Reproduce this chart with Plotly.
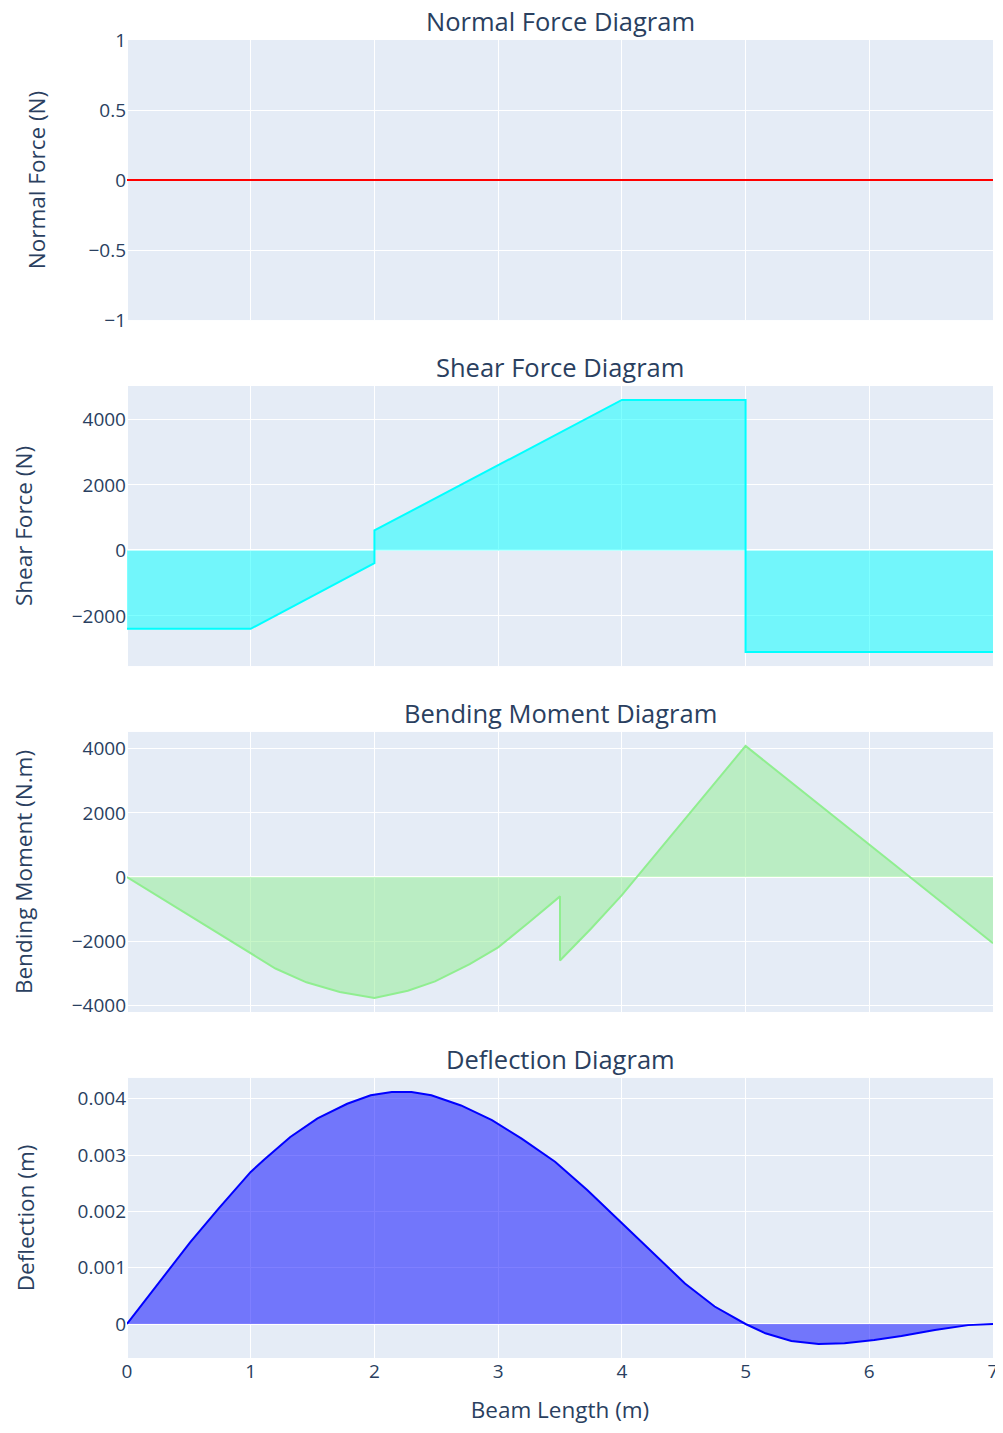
import plotly.graph_objects as go
from plotly.subplots import make_subplots

# Normal force
x_normal = [0, 7]
normal = [0, 0]

# Shear force
x_shear = [0, 1, 2, 2, 4, 5, 5, 7]
shear = [-2390, -2390, -390, 610, 4590, 4590, -3100, -3100]

# Bending moment
x_moment = [0, 1, 1.2, 1.45, 1.72, 2, 2.27, 2.49, 2.77, 3, 3.25, 3.5, 3.5, 3.75, 4, 5, 7]
moment = [0, -2370, -2850, -3280, -3580, -3770, -3545, -3250, -2710, -2190, -1410, -600, -2600, -1610, -560, 4090, -2060]

# Deflection
x_defl = [0, 0.22, 0.36, 0.51, 0.74, 1.0, 1.11, 1.32, 1.54, 1.78, 1.97, 2.14, 2.30, 2.46, 2.70, 2.95,
          3.19, 3.46, 3.72, 3.99, 4.24, 4.51, 4.75, 5.0, 5.16, 5.37, 5.59, 5.80, 6.04, 6.26, 6.53, 6.80, 7.0]
defl = [0, 0.00063, 0.00102, 0.00145, 0.00205, 0.0027, 0.00292, 0.00332, 0.00365, 0.00391, 0.00406, 0.00412,
        0.00412, 0.00406, 0.00388, 0.00362, 0.00329, 0.00288, 0.00238, 0.00181, 0.00128, 0.00072,
        0.00031, 0, -0.000165, -0.0003, -0.000355, -0.000343, -0.000284, -0.000213, -0.000106,
        -0.00002, 0]

titles = ["Normal Force Diagram", "Shear Force Diagram", "Bending Moment Diagram", "Deflection Diagram"]

fig = make_subplots(rows=4, cols=1, shared_xaxes=True, vertical_spacing=0.05,
                    subplot_titles=titles)

fig.add_trace(go.Scatter(x=x_normal, y=normal, mode="lines", line=dict(color="red")), row=1, col=1)
fig.add_trace(go.Scatter(x=x_shear, y=shear, mode="lines", fill="tozeroy",
                         line=dict(color="cyan")), row=2, col=1)
fig.add_trace(go.Scatter(x=x_moment, y=moment, mode="lines", fill="tozeroy",
                         line=dict(color="lightgreen")), row=3, col=1)
fig.add_trace(go.Scatter(x=x_defl, y=defl, mode="lines", fill="tozeroy",
                         line=dict(color="blue")), row=4, col=1)

fig.update_xaxes(range=[0, 7], tickfont=dict(size=19), ticklabeloverflow="allow")
fig.update_yaxes(tickfont=dict(size=19))
tf = dict(size=22.5)
fig.update_xaxes(title_text="Beam Length (m)", title_font=tf, title_standoff=33, row=4, col=1)
fig.update_yaxes(title_text="Normal Force (N)", title_font=tf, title_standoff=36, row=1, col=1)
fig.update_yaxes(title_text="Shear Force (N)", title_font=tf, title_standoff=40, row=2, col=1)
fig.update_yaxes(title_text="Bending Moment (N.m)", title_font=tf, title_standoff=40, row=3, col=1)
fig.update_yaxes(title_text="Deflection (m)", title_font=tf, title_standoff=36, row=4, col=1)

for ann in fig.layout.annotations:
    ann.font = dict(size=25.5)

fig.update_layout(width=987, height=1417, showlegend=False,
                  margin=dict(l=119, r=2, t=32, b=67, autoexpand=False),
                  font=dict(family="Open Sans"))

fig.write_html("out.html")
